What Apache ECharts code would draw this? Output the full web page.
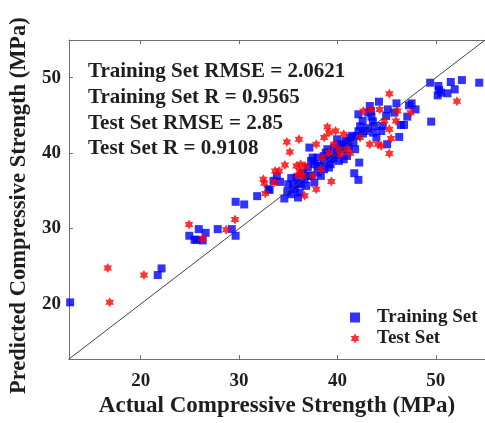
<!DOCTYPE html>
<html>
<head>
<meta charset="utf-8">
<script src="https://cdn.jsdelivr.net/npm/echarts@6/dist/echarts.min.js"></script>
<style>
html,body{margin:0;padding:0;background:#fff;}
#chart{width:485px;height:423px;}
</style>
</head>
<body>
<div id="chart"></div>
<script>
// ---- data (Actual, Predicted) in MPa ----
var trainingSet = [
  [12.83,20.22],[21.73,23.84],[22.12,24.72],[24.94,29.05],[25.47,28.52],[25.67,28.52],[25.9,29.93],
  [26.3,28.43],[26.6,29.44],[27.83,29.93],[29.26,29.93],[29.65,29.05],[29.65,33.55],[30.52,33.2],
  [31.84,34.3],[33.1,35.13],[34.6,33.99],
  [35.33,34.56],[35.99,34.12],[36.16,34.78],[35.49,35.66],[35.0,35.88],[34.17,36.19],[33.5,36.33],
  [33.0,35.22],[33.84,36.99],[35.83,36.77],[36.66,36.55],[36.49,37.43],[36.99,38.09],[37.15,40.74],
  [37.32,38.97],[37.65,38.53],[37.98,39.41],[38.31,38.31],[38.65,38.97],[38.81,40.07],[39.14,38.09],
  [39.31,39.19],[39.64,40.74],[39.81,39.85],[40.14,38.97],[40.31,41.18],[40.57,40.52],[40.8,41.62],
  [41.13,40.96],[41.3,42.06],[41.63,41.4],[41.8,40.52],[40.64,39.19],[40.97,39.63],[37.98,37.43],
  [37.32,36.99],[38.31,36.99],[37.65,36.11],[38.65,37.87],[39.31,38.53],[36.82,35.66],[35.66,35.22],
  [37.48,39.41],[38.98,40.52],[39.97,41.84],[34.9,34.9],[36.3,35.9],[37.0,37.0],[38.0,38.3],[39.0,39.6],
  [40.0,40.2],[41.0,41.5],[35.3,36.7],[36.0,36.0],[38.6,39.6],[39.6,39.3],[40.5,40.9],[41.5,42.3],
  [42.13,45.15],[42.56,44.27],[42.13,42.9],[41.96,42.28],[42.3,43.56],[42.79,42.94],[43.13,45.37],
  [43.29,46.25],[43.46,44.84],[43.79,43.6],[43.96,42.06],[43.62,42.72],[44.22,46.82],[44.45,42.94],
  [44.95,44.93],[45.12,45.8],[45.05,41.18],[45.78,45.37],[46.0,46.6],[46.28,42.15],[46.44,43.74],
  [46.77,43.74],[47.1,44.84],[47.27,46.34],[47.54,46.6],[47.94,45.8],[49.53,44.18],[42.21,38.75],
  [41.71,37.34],[42.13,36.46],[43.4,45.6],[43.6,44.2],[44.6,43.6],[42.6,42.6],[43.1,43.3],
  [49.43,49.34],[50.26,48.9],[50.33,48.37],[50.19,47.66],[50.52,48.02],[51.19,47.93],[51.52,49.43],
  [51.92,48.46],[52.65,49.69],[54.41,49.34]
];
var testSet = [
  [16.65,24.77],[16.85,20.22],[20.33,23.84],[24.91,30.55],[26.3,28.69],[28.69,29.84],[29.59,31.21],
  [32.47,36.55],[32.57,36.02],[32.67,34.65],[33.6,36.1],[33.67,37.65],[34.07,37.65],[34.66,38.44],
  [34.86,41.49],[35.16,40.16],[36.09,41.84],[35.83,38.31],[36.26,38.53],[36.72,38.31],[36.16,37.65],
  [36.49,36.99],[35.99,37.08],[36.66,34.34],[37.85,35.22],[37.85,41.18],[38.65,42.06],[38.98,43.47],
  [39.14,42.72],[39.38,36.24],[39.81,42.94],[40.64,42.5],[37.48,36.99],[38.31,37.87],[38.48,39.41],
  [39.14,40.07],[40.14,40.52],[40.31,39.85],[39.64,41.18],[40.97,40.52],[41.3,39.99],[42.3,42.06],
  [42.63,45.59],[43.39,45.8],[44.29,45.8],[45.28,47.88],[46.11,45.59],[44.78,44.27],[45.28,43.16],
  [45.95,44.27],[45.45,41.93],[44.12,41.18],[44.45,40.96],[45.28,39.94],[43.29,41.18],[47.44,45.37],
  [52.15,46.87]
];
var identityLine = [[12.7,12.7],[55,55]];
var tickValues = [20,30,40,50];
var annotations = [
  'Training Set RMSE = 2.0621',
  'Training Set R = 0.9565',
  'Test Set RMSE = 2.85',
  'Test Set R = 0.9108'
];
var axisMin = 12.7, axisMax = 55;

var FONT = "'Liberation Serif','Times New Roman',serif";
var STAR = 'path://M0 -10 L2.885 -5 L8.66 -5 L5.77 0 L8.66 5 L2.885 5 L0 10 L-2.885 5 L-8.66 5 L-5.77 0 L-8.66 -5 L-2.885 -5 Z';
var AXC = '#6e6e6e';
var TXT = '#1e1e1e';

var chart = echarts.init(document.getElementById('chart'), null, {renderer:'canvas'});

var gridL = 66.7, gridT = 40, gridW = 424.3, gridH = 320.7;

function axisCommon(extra){
  var base = {
    type:'value', min:axisMin, max:axisMax,
    axisLine:{show:true, lineStyle:{color:AXC, width:1}},
    axisTick:{show:true, inside:true, length:4, customValues:tickValues, lineStyle:{color:AXC}},
    axisLabel:{show:true, customValues:tickValues, color:TXT, fontFamily:FONT, fontWeight:'bold', fontSize:19},
    splitLine:{show:false}
  };
  for (var k in extra) base[k] = extra[k];
  return base;
}

var graphics = annotations.map(function(t,i){
  return {
    type:'text', left:88, top: 61 + i*25.8,
    style:{text:t, fill:TXT, font:'bold 21px '+FONT}
  };
});

chart.setOption({
  animation:false,
  backgroundColor:'#ffffff',
  grid:{left:gridL, top:gridT, width:gridW, height:gridH},
  xAxis:[
    axisCommon({position:'bottom',
      name:'Actual Compressive Strength (MPa)', nameLocation:'middle', nameGap:35,
      nameTextStyle:{color:TXT, fontFamily:FONT, fontWeight:'bold', fontSize:23},
      axisLabel:{show:true, customValues:tickValues, color:TXT, fontFamily:FONT, fontWeight:'bold', fontSize:19, margin:12}
    }),
    axisCommon({position:'top', axisLabel:{show:false}})
  ],
  yAxis:[
    axisCommon({position:'left',
      name:'Predicted Compressive Strength (MPa)', nameLocation:'middle', nameGap:31,
      nameTextStyle:{color:TXT, fontFamily:FONT, fontWeight:'bold', fontSize:22.5, padding:[0,12,0,0]},
      axisLabel:{show:true, customValues:tickValues, color:TXT, fontFamily:FONT, fontWeight:'bold', fontSize:19, margin:8}
    })
  ],
  legend:{
    orient:'vertical', left:345, top:302, itemWidth:10, itemHeight:10, itemGap:0,
    textStyle:{color:TXT, fontFamily:FONT, fontWeight:'bold', fontSize:19, lineHeight:21, padding:[0,0,0,12]},
    data:[{name:'Training Set', icon:'rect'},{name:'Test Set', icon:STAR}]
  },
  graphic:graphics,
  series:[
    {name:'Training Set', type:'scatter', data:trainingSet, symbol:'rect', symbolSize:8,
     itemStyle:{color:'#0000ff'}, z:2},
    {name:'Test Set', type:'scatter', data:testSet, symbol:STAR, symbolSize:10, symbolKeepAspect:true,
     itemStyle:{color:'#ff0000'}, z:3},
    {name:'identity', type:'line', data:identityLine, showSymbol:false, symbol:'none',
     lineStyle:{color:'#444444', width:1}, z:4, silent:true}
  ]
});
</script>
</body>
</html>
